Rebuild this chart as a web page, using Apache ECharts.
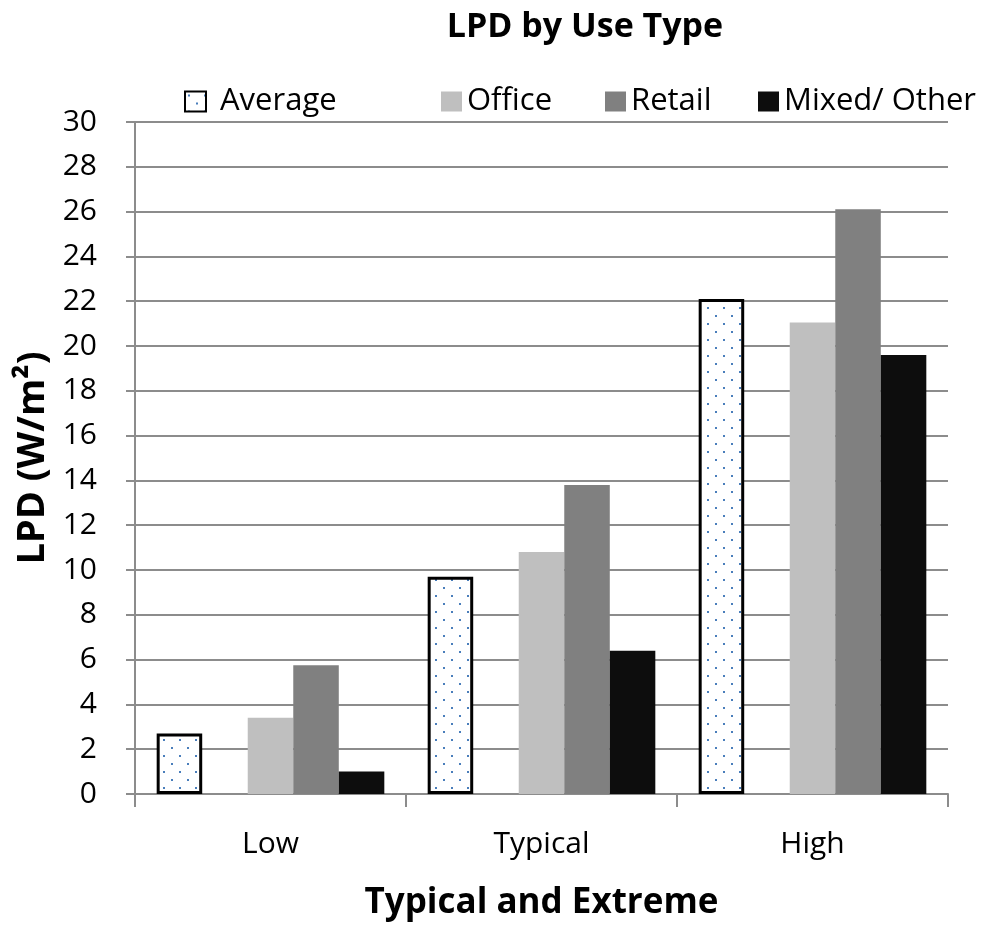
<!DOCTYPE html>
<html>
<head>
<meta charset="utf-8">
<title>LPD by Use Type</title>
<script src="https://cdn.jsdelivr.net/npm/echarts@6/dist/echarts.min.js"></script>
<style>
  html, body { margin: 0; padding: 0; background: #ffffff; }
  #chart { width: 1001px; height: 926px; }
</style>
</head>
<body>
<div id="chart"></div>
<script>
// Lighting power density by use type, W/m²
const categories = ['Low', 'Typical', 'High'];
const averageValues = [2.7, 9.7, 22.1];
const officeValues = [3.4, 10.8, 21.05];
const retailValues = [5.75, 13.8, 26.1];
const mixedValues = [1.0, 6.4, 19.6];
const spacerValues = [null, null, null];

const yMin = 0;
const yMax = 30;
const yStep = 2;

const FONT = "'Open Sans', 'Noto Sans', sans-serif";

// dotted fill used for the Average bars
function dotPattern() {
  const c = document.createElement('canvas');
  c.width = 16; c.height = 16;
  const g = c.getContext('2d');
  g.fillStyle = '#ffffff';
  g.fillRect(0, 0, 16, 16);
  g.fillStyle = '#4a7ebb';
  g.fillRect(3, 3, 2, 2);
  g.fillRect(11, 11, 2, 2);
  return c;
}

const chart = echarts.init(document.getElementById('chart'), null, { renderer: 'canvas' });

function legendAt(name, left, textPadLeft) {
  return {
    data: [name], left: left, top: 86, padding: 0,
    itemWidth: 21, itemHeight: 20, icon: 'rect',
    textStyle: {
      fontFamily: FONT, fontSize: 31, color: '#000000',
      padding: [0, 0, 0, textPadLeft || 0]
    },
    selectedMode: false
  };
}

chart.setOption({
  animation: false,
  backgroundColor: '#ffffff',
  graphic: [{
    type: 'text', x: 585, y: 10,
    style: {
      text: 'LPD by Use Type',
      font: "bold 34px 'Open Sans', sans-serif",
      fill: '#000000', textAlign: 'center', textVerticalAlign: 'top'
    }
  }],
  legend: [
    legendAt('Average', 184, 9),
    legendAt('Office', 441),
    legendAt('Retail', 605),
    legendAt('Mixed/ Other', 758)
  ],
  grid: { left: 135, right: 53, top: 122, bottom: 126 },
  xAxis: {
    type: 'category',
    data: categories,
    name: 'Typical and Extreme',
    nameLocation: 'middle',
    nameGap: 92,
    nameTextStyle: { fontFamily: FONT, fontSize: 35, fontWeight: 'bold', color: '#000000' },
    axisLine: { show: true, lineStyle: { color: '#8c8c8c', width: 2 } },
    axisTick: { show: true, length: 13, interval: 0, lineStyle: { color: '#8c8c8c', width: 2 } },
    axisLabel: { margin: 35, fontFamily: FONT, fontSize: 30, color: '#000000' }
  },
  yAxis: {
    type: 'value',
    min: yMin, max: yMax, interval: yStep,
    name: 'LPD (W/m²)',
    nameLocation: 'middle',
    nameGap: 83,
    nameRotate: 90,
    nameTextStyle: { fontFamily: FONT, fontSize: 38, fontWeight: 'bold', color: '#000000' },
    axisLine: { show: true, lineStyle: { color: '#8c8c8c', width: 2 } },
    axisTick: { show: true, length: 9, lineStyle: { color: '#8c8c8c', width: 2 } },
    axisLabel: { margin: 38, fontFamily: FONT, fontSize: 30, color: '#000000' },
    splitLine: { show: true, lineStyle: { color: '#8c8c8c', width: 2 } }
  },
  series: [
    {
      name: 'Average', type: 'bar', data: averageValues,
      barGap: '0%', barCategoryGap: '16%',
      itemStyle: {
        color: { image: dotPattern(), repeat: 'repeat' },
        borderColor: '#000000', borderWidth: 3
      }
    },
    {
      name: 'spacer', type: 'bar', data: spacerValues,
      barGap: '0%', barCategoryGap: '16%',
      itemStyle: { color: 'rgba(0,0,0,0)' }
    },
    {
      name: 'Office', type: 'bar', data: officeValues,
      barGap: '0%', barCategoryGap: '16%',
      itemStyle: { color: '#bfbfbf' }
    },
    {
      name: 'Retail', type: 'bar', data: retailValues,
      barGap: '0%', barCategoryGap: '16%',
      itemStyle: { color: '#808080' }
    },
    {
      name: 'Mixed/ Other', type: 'bar', data: mixedValues,
      barGap: '0%', barCategoryGap: '16%',
      itemStyle: { color: '#0d0d0d' }
    }
  ]
});
</script>
</body>
</html>
